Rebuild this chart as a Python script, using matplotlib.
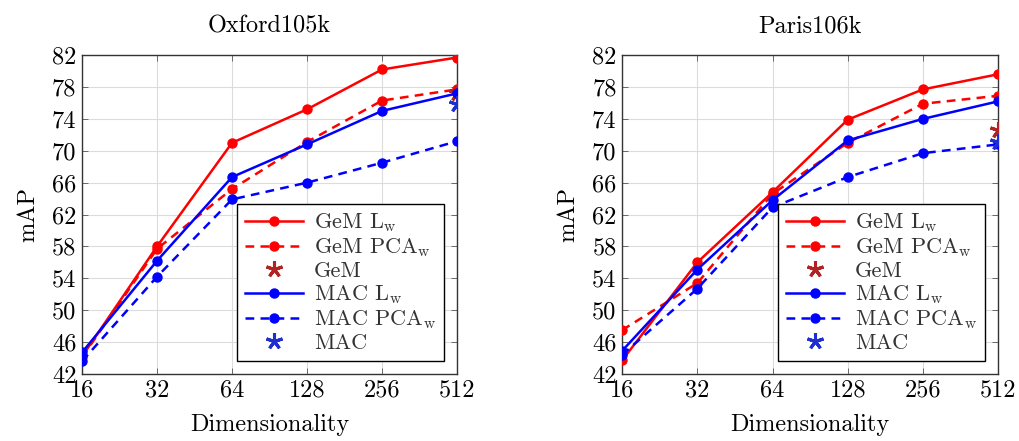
import matplotlib
matplotlib.use("Agg")
import matplotlib.pyplot as plt
import numpy as np

plt.rcParams['font.family'] = 'serif'
plt.rcParams['font.serif'] = ['cmr10']
plt.rcParams['mathtext.fontset'] = 'cm'
plt.rcParams['axes.formatter.use_mathtext'] = True

dims = [16, 32, 64, 128, 256, 512]
dim_labels = ['16', '32', '64', '128', '256', '512']
yticks = [42, 46, 50, 54, 58, 62, 66, 70, 74, 78, 82]

# Oxford105k
ox_gem_lw = [44.2, 58.0, 71.0, 75.2, 80.2, 81.7]
ox_gem_pca = [44.1, 57.7, 65.2, 71.1, 76.3, 77.7]
ox_gem_star = 77.2
ox_mac_lw = [44.7, 56.2, 66.7, 70.8, 75.0, 77.2]
ox_mac_pca = [43.6, 54.2, 63.9, 66.0, 68.5, 71.2]
ox_mac_star = 75.9

# Paris106k
pa_gem_lw = [43.7, 56.0, 64.8, 73.9, 77.7, 79.6]
pa_gem_pca = [47.5, 53.4, 64.6, 71.0, 75.9, 76.9]
pa_gem_star = 72.6
pa_mac_lw = [44.9, 55.1, 63.8, 71.3, 74.0, 76.2]
pa_mac_pca = [44.4, 52.7, 62.9, 66.7, 69.7, 70.8]
pa_mac_star = 71.1

fig = plt.figure(figsize=(10.19, 4.41), dpi=100)
ax1 = fig.add_axes([0.0805, 0.152, 0.368, 0.723])
ax2 = fig.add_axes([0.6105, 0.152, 0.369, 0.723])

FS = 17.5
LFS = 16
lw = 1.8
ms = 6.5

def draw(ax, title, gl, gp, gs, ml, mp, ms_):
    ax.plot(dims, gl, color='#ff0000', lw=lw, ls='-', marker='o', ms=ms, label=r'GeM L$_\mathrm{w}$', zorder=3)
    ax.plot(dims, gp, color='#ff0000', lw=lw, ls=(0, (3.5, 2.5)), marker='o', ms=ms, label=r'GeM PCA$_\mathrm{w}$', zorder=3)
    ax.plot([512], [gs], color='#b22222', ls='none', marker=(5, 2, 0), ms=12, mew=2.2, label='GeM', zorder=3)
    ax.plot(dims, ml, color='#0000ff', lw=lw, ls='-', marker='o', ms=ms, label=r'MAC L$_\mathrm{w}$', zorder=4)
    ax.plot(dims, mp, color='#0000ff', lw=lw, ls=(0, (3.5, 2.5)), marker='o', ms=ms, label=r'MAC PCA$_\mathrm{w}$', zorder=4)
    ax.plot([512], [ms_], color='#1f2fcf', ls='none', marker=(5, 2, 0), ms=12, mew=2.2, label='MAC', zorder=5)
    ax.set_xscale('log', base=2)
    ax.set_xlim(16, 512)
    ax.set_ylim(42, 82)
    ax.set_xticks(dims)
    ax.set_xticklabels(dim_labels)
    ax.minorticks_off()
    ax.set_yticks(yticks)
    ax.set_yticklabels([str(v) for v in yticks])
    ax.tick_params(direction='in', labelsize=FS, top=True, right=True, length=4, width=0.6, color='#555555', pad=4)
    ax.grid(True, color='#dcdcdc', lw=0.8)
    ax.set_axisbelow(True)
    for s in ax.spines.values():
        s.set_color('#333333')
        s.set_linewidth(1.0)
    ax.set_title(title, fontsize=FS, pad=16)
    ax.set_xlabel('Dimensionality', fontsize=FS, labelpad=9)
    ax.set_ylabel('mAP', fontsize=FS, labelpad=9)
    leg = ax.legend(loc='lower right', fontsize=LFS, frameon=True, fancybox=False,
                    edgecolor='black', framealpha=1, borderaxespad=0.6,
                    handlelength=2.6, handletextpad=0.5, labelspacing=0.1,
                    borderpad=0.35)
    leg.get_frame().set_linewidth(1.0)
    for t in leg.get_texts():
        t.set_color('#333333')

draw(ax1, 'Oxford105k', ox_gem_lw, ox_gem_pca, ox_gem_star, ox_mac_lw, ox_mac_pca, ox_mac_star)
draw(ax2, 'Paris106k', pa_gem_lw, pa_gem_pca, pa_gem_star, pa_mac_lw, pa_mac_pca, pa_mac_star)

fig.savefig('out.png', dpi=100)
